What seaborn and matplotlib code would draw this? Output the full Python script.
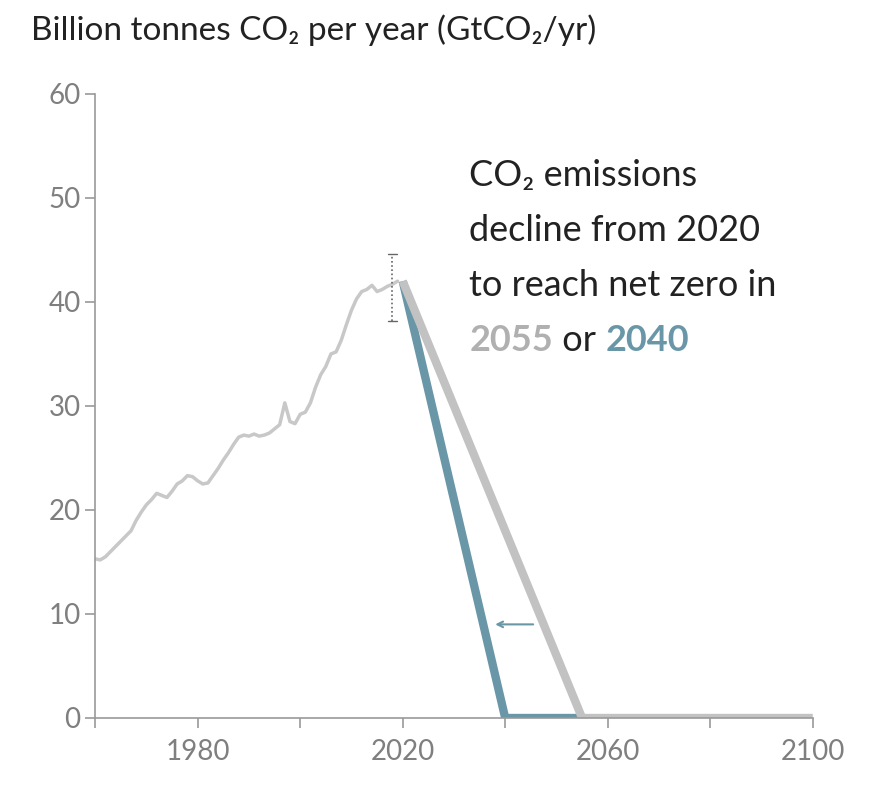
import matplotlib
matplotlib.use("Agg")
import matplotlib.pyplot as plt
import seaborn as sns

sns.set_style("white")
plt.rcParams['font.family'] = ['Lato', 'DejaVu Sans']

hist_years = list(range(1960, 2020))
hist_vals = [15.3, 15.2, 15.5, 16.0, 16.5, 17.0, 17.5, 18.0, 19.0, 19.8,
             20.5, 21.0, 21.6, 21.4, 21.2, 21.8, 22.5, 22.8, 23.3, 23.2,
             22.8, 22.5, 22.6, 23.3, 24.0, 24.8, 25.5, 26.3, 27.0, 27.2,
             27.1, 27.3, 27.1, 27.2, 27.4, 27.8, 28.2, 30.3, 28.5, 28.3,
             29.2, 29.4, 30.3, 31.8, 33.0, 33.8, 35.0, 35.2, 36.3, 37.8,
             39.2, 40.3, 41.0, 41.2, 41.6, 41.0, 41.2, 41.5, 41.7, 42.0]
slow_years = [2020, 2055, 2100]
slow_vals = [42.0, 0.0, 0.0]
fast_years = [2020, 2040, 2055]
fast_vals = [42.0, 0.0, 0.0]
err_year, err_lo, err_hi = 2018, 38.2, 44.6

GRAY = "#c2c2c2"
BLUE = "#6a97a8"
TICK = "#7f7f7f"
FS = 26

fig = plt.figure(figsize=(8.73, 7.96), dpi=100)
ax = fig.add_axes([0.109, 0.098, 0.822, 0.784])

sns.lineplot(x=hist_years, y=hist_vals, ax=ax, color="#c8c8c8", lw=2.5)
sns.lineplot(x=fast_years, y=fast_vals, ax=ax, color=BLUE, lw=6, solid_capstyle="butt")
sns.lineplot(x=slow_years, y=slow_vals, ax=ax, color=GRAY, lw=6, solid_capstyle="butt")
ax.plot([err_year, err_year], [err_lo, err_hi], ls=(0, (1, 1.5)), color="#666", lw=1.2)
ax.plot([err_year - 0.8, err_year + 0.8], [err_lo, err_lo], color="#666", lw=1)
ax.plot([err_year - 0.8, err_year + 0.8], [err_hi, err_hi], color="#666", lw=1)
ax.annotate("", xy=(2037.5, 9), xytext=(2046, 9),
            arrowprops=dict(arrowstyle="->", color=BLUE, lw=1.5))

ax.set_xlim(1960, 2100)
ax.set_ylim(0, 60)
ax.set_xticks([1980, 2020, 2060, 2100])
ax.set_xticks([1960, 2000, 2040, 2080], minor=True)
ax.set_yticks(range(0, 61, 10))
for s in ["top", "right"]:
    ax.spines[s].set_visible(False)
for s in ["left", "bottom"]:
    ax.spines[s].set_color("#999")
    ax.spines[s].set_linewidth(1.2)
ax.tick_params(axis="both", which="both", direction="out", length=7, color="#999",
               labelcolor=TICK, labelsize=20, left=True, bottom=True, width=1.2)
ax.tick_params(axis="x", pad=8)

fig.text(0.035, 0.962, "Billion tonnes CO₂ per year (GtCO₂/yr)", fontsize=24,
         color="#222", va="center")
lines_y = [52.2, 46.9, 41.6]
for t, yy in zip(["CO₂ emissions", "decline from 2020", "to reach net zero in"], lines_y):
    ax.text(2033, yy, t, fontsize=FS, color="#222", va="center")

# last line built from parts placed side by side
fig.canvas.draw()
r = fig.canvas.get_renderer()
parts = [("2055", "#b0b0b0", "bold"), (" or ", "#222", "normal"), ("2040", BLUE, "bold")]
x_disp = ax.transData.transform((2033, 36.3))[0]
y_disp = ax.transData.transform((2033, 36.3))[1]
for t, c, w in parts:
    x_data, y_data = ax.transData.inverted().transform((x_disp, y_disp))
    txt = ax.text(x_data, y_data, t, fontsize=FS, color=c, fontweight=w, va="center")
    x_disp += txt.get_window_extent(r).width

fig.savefig("out.png", dpi=100)
